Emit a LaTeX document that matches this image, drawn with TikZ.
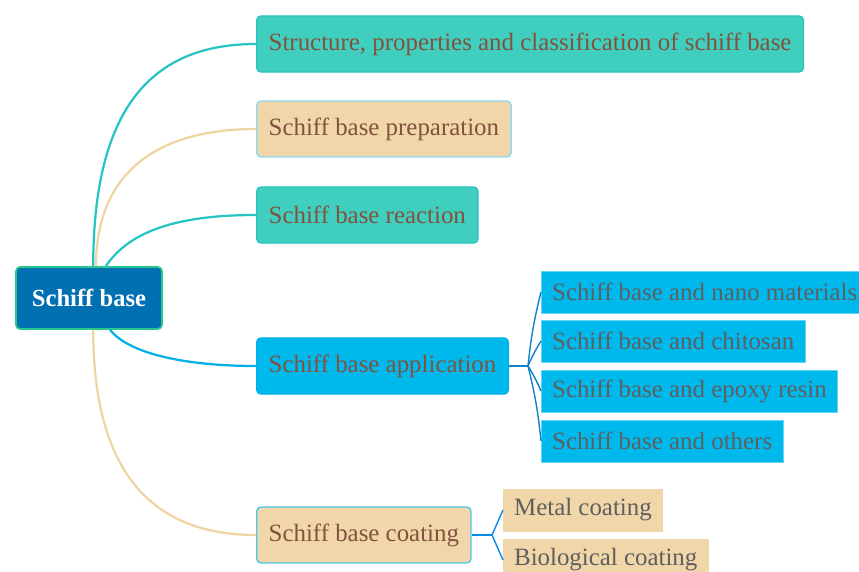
\documentclass[tikz,border=0pt]{standalone}
\usepackage{fontspec}
\setmainfont{Liberation Serif}
\usetikzlibrary{positioning, calc}
\definecolor{RootFill}{RGB}{0,112,178}
\definecolor{RootLine}{RGB}{40,200,140}
\definecolor{TealFill}{RGB}{64,206,190}
\definecolor{TealLine}{RGB}{40,196,196}
\definecolor{TanFill}{RGB}{240,214,168}
\definecolor{TanLine}{RGB}{238,214,164}
\definecolor{CyanFill}{RGB}{0,185,236}
\definecolor{CyanLine}{RGB}{0,176,230}
\definecolor{FanLine}{RGB}{20,130,200}
\definecolor{BrownText}{RGB}{130,82,62}
\definecolor{GrayText}{RGB}{95,95,95}

\tikzset{
  topic/.style={draw, rounded corners=3pt, line width=1pt, minimum height=1.4cm,
    inner xsep=0.3cm, anchor=west, text=BrownText, font=\fontsize{17.7}{20}\selectfont},
  leaf/.style={draw=CyanFill!60, line width=0.5pt, minimum height=1.05cm,
    inner xsep=0.27cm, anchor=west, text=GrayText, font=\fontsize{17.7}{20}\selectfont},
  branch/.style={line width=1.6pt},
  fan/.style={line width=1pt, draw=FanLine}
}

\begin{document}
\begin{tikzpicture}[x=0.025cm, y=-0.025cm]
  \useasboundingbox (0,0) rectangle (859,571);
  \clip (0,0) rectangle (859,571);

  % central topic
  \node[draw=RootLine, fill=RootFill, rounded corners=3pt, line width=1.2pt,
        minimum width=3.65cm, minimum height=1.55cm, text=white,
        font=\fontsize{17.5}{20}\selectfont\bfseries] (root) at (89,298) {Schiff base};

  % main topics
  \node[topic, fill=TealFill, draw=TealLine] (struct) at (256,44) {Structure, properties and classification of schiff base};
  \node[topic, fill=TanFill, draw=CyanLine!45] (prep) at (256,129) {Schiff base preparation};
  \node[topic, fill=TealFill, draw=TealLine] (react) at (256,215) {Schiff base reaction};
  \node[topic, fill=CyanFill, draw=CyanLine] (appl) at (256,366) {Schiff base application};
  \node[topic, fill=TanFill, draw=CyanLine!70] (coat) at (256,535) {Schiff base coating};

  % application subtopics
  \node[leaf, fill=CyanFill] (nano) at (541,292) {Schiff base and nano materials};
  \node[leaf, fill=CyanFill] (chito) at (541,341) {Schiff base and chitosan};
  \node[leaf, fill=CyanFill] (epoxy) at (541,391) {Schiff base and epoxy resin};
  \node[leaf, fill=CyanFill] (other) at (541,441) {Schiff base and others};

  % coating subtopics
  \node[leaf, fill=TanFill, draw=TanLine] (metal) at (503,510) {Metal coating};
  \node[leaf, fill=TanFill, draw=TanLine] (bio) at (503,560) {Biological coating};

  % branches from the centre
  \draw[branch, TealLine] ([xshift=3pt]root.north) .. controls ([xshift=3pt]root.north |- 0,110) and (150,44) .. (struct.west);
  \draw[branch, TanLine] ([xshift=5pt]root.north) .. controls ([xshift=5pt]root.north |- 0,170) and (160,129) .. (prep.west);
  \draw[branch, TealLine] ([xshift=12pt]root.north) .. controls (130,230) and (180,215) .. (react.west);
  \draw[branch, CyanLine] ([xshift=15pt]root.south) .. controls (130,355) and (190,366) .. (appl.west);
  \draw[branch, TanLine] ([xshift=3pt]root.south) .. controls ([xshift=3pt]root.south |- 0,470) and (150,535) .. (coat.west);

  % fans
  \coordinate (af) at (528,366);
  \draw[fan] (appl.east) -- (af);
  \foreach \s in {nano, chito, epoxy, other}
    \draw[fan] (af) to[bend left=4] (\s.west);
  \coordinate (cf) at (492,535);
  \draw[fan, draw=CyanLine!80!blue] (coat.east) -- (cf);
  \foreach \s in {metal, bio}
    \draw[fan, draw=CyanLine!80!blue] (cf) -- (\s.west);
\end{tikzpicture}
\end{document}
